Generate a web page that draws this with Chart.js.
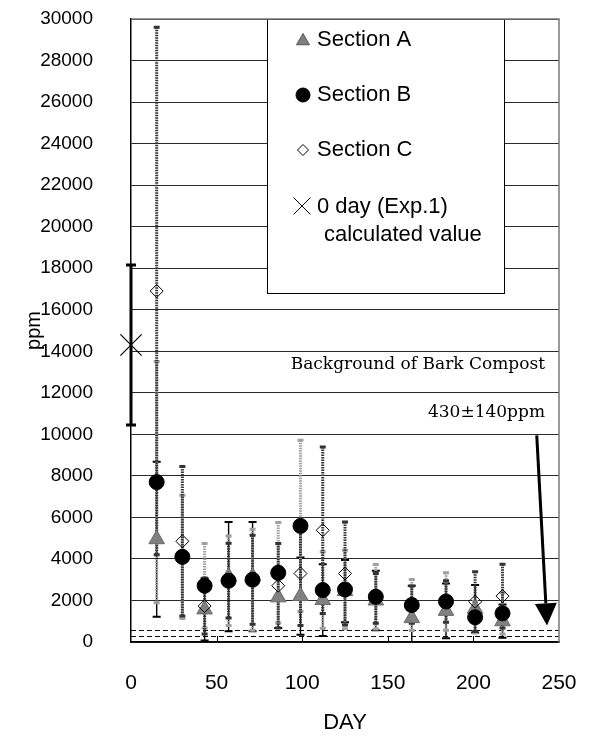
<!DOCTYPE html>
<html>
<head>
<meta charset="utf-8">
<script src="https://cdn.jsdelivr.net/npm/chart.js@4"></script>
<style>
  html, body { margin: 0; padding: 0; background: #fff; }
  canvas { display: block; }
</style>
</head>
<body>
<canvas id="chart" width="590" height="742"></canvas>
<script>
// sampling days
const DAYS = [15, 30, 43, 57, 71, 86, 99, 112, 125, 143, 164, 184, 201, 217];

// concentration (ppm) and standard deviation per section
const SEC_A    = [4950, null, 1570, 3150, 3150, 2150, 2210, 2020, 2450, 2000, 1150, 1500, 1600, 1000];
const SEC_A_SD = [3730, null, 1500, 2630, 2630, 1470, 1860, 1730, 1500, 1430, 1560, 1320, 1140,  800];
const SEC_B    = [7700, 4100, 2710, 2950, 3000, 3330, 5590, 2500, 2530, 2180, 1780, 1950, 1190, 1380];
const SEC_B_SD = [5810, 2970, 2030, 2150, 2430, 2420, 4120, 1840, 1890, 1550, 1230, 1380,  760,  990];
const SEC_C    = [16900, 4850, 1730, 2950, 3000, 2710, 3300, 5380, 3300, 2100, 1800, 1950, 1940, 2210];
const SEC_C_SD = [12700, 3600, 1350, 1800, 2140, 2030, 2500, 4010, 2480, 1200,  900, 1000, 1440, 1540];

// day 0 (Exp.1) calculated value
const CALC_DAY = [0];
const CALC     = [14300];
const CALC_SD  = [3850];

// bark compost background 430 ± 140 ppm
const BG_MEAN = 430;
const BG_SD = 140;

// pointer from the background note down to the band (day, ppm)
const ARROW_FROM = [237, 9950];
const ARROW_TO   = [243, 800];

const X_TICKS = [0, 50, 100, 150, 200, 250];
const Y_MAX = 30000;
const Y_STEP = 2000;

const SANS = "'Liberation Sans', Arial, sans-serif";
const SERIF = "'DejaVu Serif', serif";

const pts = (xs, ys) => xs.map((d, i) => ({ x: d, y: ys[i] })).filter(p => p.y !== null);

// error bar looks: A thin black, B light textured, C dark textured
const BAR_STYLES = {
  A: { color: '#000', w: 1.4, dash: [], cap: 8, capW: 2 },
  B: { color: '#a0a0a0', w: 3, dash: [1.5, 1], cap: 6, capW: 3 },
  C: { color: '#333', w: 3, dash: [1.5, 1], cap: 6, capW: 3 },
  X: { color: '#000', w: 3, dash: [], cap: 10, capW: 3 }
};

function drawBar(ctx, px, top, bot, st) {
  ctx.strokeStyle = st.color;
  ctx.lineWidth = st.w;
  ctx.setLineDash(st.dash);
  ctx.beginPath();
  ctx.moveTo(px, top);
  ctx.lineTo(px, bot);
  ctx.stroke();
  ctx.setLineDash([]);
  ctx.lineWidth = st.capW;
  ctx.beginPath();
  ctx.moveTo(px - st.cap / 2, top); ctx.lineTo(px + st.cap / 2, top);
  ctx.moveTo(px - st.cap / 2, bot); ctx.lineTo(px + st.cap / 2, bot);
  ctx.stroke();
}

function drawSeriesBars(chart, xs, ys, sd, st) {
  const { ctx, scales: { x, y } } = chart;
  xs.forEach((d, i) => {
    if (ys[i] === null) return;
    drawBar(ctx, x.getPixelForValue(d), y.getPixelForValue(ys[i] + sd[i]), y.getPixelForValue(ys[i] - sd[i]), st);
  });
}

const errorBars = {
  id: 'errorBars',
  beforeDatasetsDraw(chart) {
    const { ctx, chartArea: a, scales: { x, y } } = chart;
    ctx.save();

    // legend panel over the grid
    const L = { left: a.left + 136, top: a.top, right: a.left + 373, bottom: a.top + 274 };
    ctx.fillStyle = '#fff';
    ctx.fillRect(L.left, L.top, L.right - L.left, L.bottom - L.top);
    ctx.strokeStyle = '#000';
    ctx.lineWidth = 1;
    ctx.strokeRect(L.left + 0.5, L.top + 0.5, L.right - L.left, L.bottom - L.top);

    const mx = L.left + 36, tx = L.left + 50;
    const draw = Chart.helpers.drawPoint;
    ctx.fillStyle = '#808080'; ctx.strokeStyle = '#555';
    draw(ctx, { pointStyle: 'triangle', radius: 7.5, borderWidth: 1, rotation: 0 }, mx, L.top + 22);
    ctx.fillStyle = '#000'; ctx.strokeStyle = '#000';
    draw(ctx, { pointStyle: 'circle', radius: 7, borderWidth: 1, rotation: 0 }, mx, L.top + 76);
    ctx.fillStyle = 'rgba(0,0,0,0)';
    draw(ctx, { pointStyle: 'rectRot', radius: 5.5, borderWidth: 1, rotation: 0 }, mx, L.top + 131);
    draw(ctx, { pointStyle: 'crossRot', radius: 12, borderWidth: 1, rotation: 0 }, mx - 1, L.top + 187);

    ctx.fillStyle = '#000';
    ctx.font = '22px ' + SANS;
    ctx.textBaseline = 'middle';
    ctx.textAlign = 'left';
    ctx.fillText('Section A', tx, L.top + 21);
    ctx.fillText('Section B', tx, L.top + 76);
    ctx.fillText('Section C', tx, L.top + 131);
    ctx.fillText('0 day (Exp.1)', tx, L.top + 188);
    ctx.fillText('calculated value', tx + 7, L.top + 216);

    // day-0 bar sits on the axis, so draw it before clipping
    drawSeriesBars(chart, CALC_DAY, CALC, CALC_SD, BAR_STYLES.X);

    ctx.beginPath();
    ctx.rect(a.left, a.top, a.width, a.height);
    ctx.clip();

    // background band limits
    ctx.strokeStyle = '#000';
    ctx.lineWidth = 1;
    ctx.setLineDash([5, 3]);
    [BG_MEAN + BG_SD, BG_MEAN - BG_SD].forEach(v => {
      const py = Math.round(y.getPixelForValue(v)) + 0.5;
      ctx.beginPath();
      ctx.moveTo(a.left, py);
      ctx.lineTo(a.right, py);
      ctx.stroke();
    });
    ctx.setLineDash([]);

    drawSeriesBars(chart, DAYS, SEC_A, SEC_A_SD, BAR_STYLES.A);
    drawSeriesBars(chart, DAYS, SEC_B, SEC_B_SD, BAR_STYLES.B);
    drawSeriesBars(chart, DAYS, SEC_C, SEC_C_SD, BAR_STYLES.C);
    ctx.restore();
  },
  afterDatasetsDraw(chart) {
    const { ctx, chartArea: a, scales: { x, y } } = chart;
    ctx.save();

    // top and right frame
    ctx.strokeStyle = '#7a7a7a';
    ctx.lineWidth = 1.5;
    ctx.beginPath();
    ctx.moveTo(a.left, a.top);
    ctx.lineTo(a.right, a.top);
    ctx.lineTo(a.right, a.bottom);
    ctx.stroke();

    // inward tick marks on the day axis
    ctx.strokeStyle = '#000';
    ctx.lineWidth = 1;
    X_TICKS.slice(1, -1).forEach(d => {
      const px = Math.round(x.getPixelForValue(d)) + 0.5;
      ctx.beginPath();
      ctx.moveTo(px, a.bottom);
      ctx.lineTo(px, a.bottom - 6);
      ctx.stroke();
    });

    // notes
    ctx.fillStyle = '#000';
    ctx.font = '17px ' + SERIF;
    ctx.textAlign = 'right';
    ctx.textBaseline = 'middle';
    ctx.fillText('Background of Bark Compost', a.right - 14, a.top + 346);
    ctx.fillText('430\u00b1140ppm', a.right - 14, a.top + 394);

    // arrow into the band
    const x0 = x.getPixelForValue(ARROW_FROM[0]), y0 = y.getPixelForValue(ARROW_FROM[1]);
    const x1 = x.getPixelForValue(ARROW_TO[0]), y1 = y.getPixelForValue(ARROW_TO[1]);
    const ang = Math.atan2(y1 - y0, x1 - x0);
    const headLen = 22, headHalf = 11;
    const bx = x1 - headLen * Math.cos(ang), by = y1 - headLen * Math.sin(ang);
    ctx.strokeStyle = '#000';
    ctx.lineWidth = 3;
    ctx.beginPath();
    ctx.moveTo(x0, y0);
    ctx.lineTo(bx, by);
    ctx.stroke();
    ctx.beginPath();
    ctx.moveTo(x1, y1);
    ctx.lineTo(bx + headHalf * Math.sin(ang), by - headHalf * Math.cos(ang));
    ctx.lineTo(bx - headHalf * Math.sin(ang), by + headHalf * Math.cos(ang));
    ctx.closePath();
    ctx.fill();
    ctx.restore();
  }
};

new Chart(document.getElementById('chart'), {
  type: 'scatter',
  data: {
    datasets: [
      { label: 'Section C', data: pts(DAYS, SEC_C), pointStyle: 'rectRot', pointRadius: 6.5,
        backgroundColor: 'rgba(0,0,0,0)', borderColor: '#000', borderWidth: 1 },
      { label: 'Section B', data: pts(DAYS, SEC_B), pointStyle: 'circle', pointRadius: 7.5,
        backgroundColor: '#000', borderColor: '#000', borderWidth: 1 },
      { label: 'Section A', data: pts(DAYS, SEC_A), pointStyle: 'triangle', pointRadius: 9,
        backgroundColor: '#808080', borderColor: '#6a6a6a', borderWidth: 1 },
      { label: '0 day (Exp.1) calculated value', data: pts(CALC_DAY, CALC), pointStyle: 'crossRot',
        pointRadius: 15, borderColor: '#000', borderWidth: 1.2, clip: false }
    ]
  },
  options: {
    responsive: false,
    animation: false,
    layout: { padding: { top: 19, right: 31, left: 0, bottom: 0 } },
    plugins: { legend: { display: false }, tooltip: { enabled: false } },
    scales: {
      x: {
        type: 'linear', min: 0, max: 250,
        afterBuildTicks: s => { s.ticks = X_TICKS.map(v => ({ value: v })); },
        afterFit: s => { s.height = 100; s.paddingLeft = 0; s.paddingRight = 0; },
        grid: { drawOnChartArea: false, drawTicks: false },
        border: { color: '#000', width: 1.5 },
        ticks: { padding: 29, color: '#000', font: { family: SANS, size: 21 } },
        title: { display: true, text: 'DAY', color: '#000', font: { family: SANS, size: 22 }, padding: { bottom: 6 } }
      },
      y: {
        min: 0, max: Y_MAX,
        afterFit: s => { s.width = 131; s.paddingTop = 0; s.paddingBottom = 0; },
        grid: { color: '#2a2a2a', lineWidth: 1, drawTicks: false },
        border: { color: '#000', width: 1.5 },
        ticks: { stepSize: Y_STEP, padding: 38, color: '#000', font: { family: SANS, size: 19 },
                 callback: v => String(v) },
        title: { display: true, text: 'ppm', color: '#000', font: { family: SANS, size: 20 }, padding: { top: 22 } }
      }
    }
  },
  plugins: [errorBars]
});
</script>
</body>
</html>
